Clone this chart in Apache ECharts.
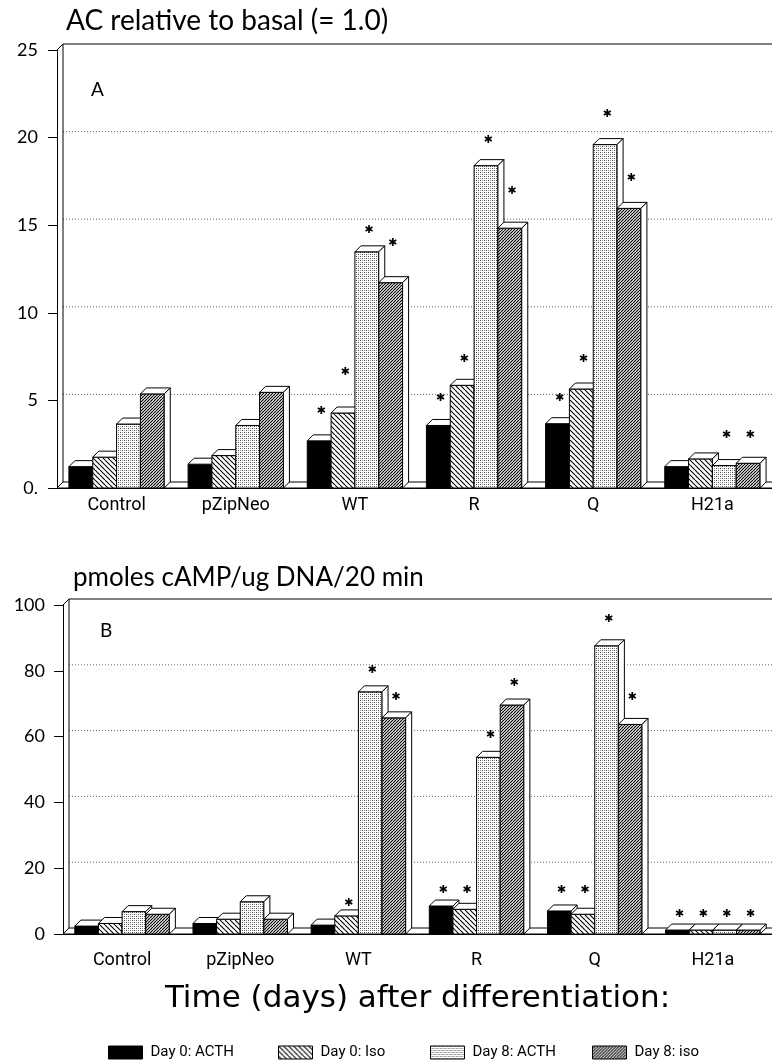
<!DOCTYPE html>
<html>
<head>
<meta charset="utf-8">
<script src="https://cdn.jsdelivr.net/npm/echarts@6/dist/echarts.min.js"></script>
<style>
  html, body { margin: 0; padding: 0; background: #fff; }
  #chart { width: 772px; height: 1063px; }
</style>
</head>
<body>
<div id="chart"></div>
<script>
// categories + legend names
const categories = ['Control', 'pZipNeo', 'WT', 'R', 'Q', 'H21a'];
const seriesNames = ['Day 0: ACTH', 'Day 0: Iso', 'Day 8: ACTH', 'Day 8: iso'];

// panel A: AC relative to basal
const acthDay0A = [1.22, 1.36, 2.69, 3.57, 3.67, 1.22];
const isoDay0A = [1.76, 1.85, 4.28, 5.86, 5.65, 1.66];
const acthDay8A = [3.65, 3.57, 13.48, 18.4, 19.6, 1.28];
const isoDay8A = [5.37, 5.46, 11.72, 14.83, 15.96, 1.41];
// asterisk heights (null = no asterisk)
const starActhDay0A = [null, null, 4.37, 5.15, 5.15, null];
const starIsoDay0A = [null, null, 6.6, 7.33, 7.33, null];
const starActhDay8A = [null, null, 14.72, 19.87, 21.36, 3.0];
const starIsoDay8A = [null, null, 13.97, 16.95, 17.7, 3.0];
const ticksA = [0, 5, 10, 15, 20, 25];

// panel B: pmoles cAMP/ug DNA/20 min
const acthDay0B = [2.4, 3.2, 2.7, 8.5, 7.0, 1.2];
const isoDay0B = [3.2, 4.5, 5.5, 7.5, 6.0, 1.2];
const acthDay8B = [6.8, 9.8, 73.6, 53.7, 87.6, 1.2];
const isoDay8B = [6.0, 4.5, 65.7, 69.6, 63.7, 1.2];
const starActhDay0B = [null, null, null, 13.4, 13.4, 6.1];
const starIsoDay0B = [null, null, 9.5, 13.4, 13.4, 6.1];
const starActhDay8B = [null, null, 80.2, 60.5, 95.7, 6.1];
const starIsoDay8B = [null, null, 72.1, 76.2, 72.1, 6.1];
const ticksB = [0, 20, 40, 60, 80, 100];

const DEPTH = 6;

function hatchTile(size, dir, lw, bg) {
  const c = document.createElement('canvas');
  c.width = size; c.height = size;
  const ctx = c.getContext('2d');
  ctx.fillStyle = bg; ctx.fillRect(0, 0, size, size);
  ctx.strokeStyle = '#000'; ctx.lineWidth = lw;
  for (let k = -1; k <= 1; k++) {
    ctx.beginPath();
    if (dir > 0) { ctx.moveTo(k * size, size); ctx.lineTo(k * size + size, 0); }
    else { ctx.moveTo(k * size, 0); ctx.lineTo(k * size + size, size); }
    ctx.stroke();
  }
  return { image: c, repeat: 'repeat' };
}

function dotTile() {
  const c = document.createElement('canvas');
  c.width = 4; c.height = 4;
  const ctx = c.getContext('2d');
  ctx.fillStyle = '#fff'; ctx.fillRect(0, 0, 4, 4);
  ctx.fillStyle = '#444';
  ctx.fillRect(0, 0, 1, 1);
  ctx.fillRect(2, 2, 1, 1);
  ctx.fillStyle = '#999';
  ctx.fillRect(2, 0, 1, 1);
  ctx.fillRect(0, 2, 1, 1);
  return { image: c, repeat: 'repeat' };
}

const fills = ['#000', hatchTile(5, -1, 1.1, '#fff'), dotTile(), hatchTile(3, 1, 1.2, '#fff')];

function barSeries(gi, k, values, stars) {
  return {
    name: seriesNames[k],
    type: 'custom',
    xAxisIndex: gi, yAxisIndex: gi,
    itemStyle: { color: fills[k], borderColor: '#000', borderWidth: 1 },
    z: 3,
    data: values.map((v, i) => [i, v, stars[i] == null ? -1 : stars[i]]),
    renderItem: function (params, api) {
      const i = api.value(0), v = api.value(1), s = api.value(2);
      const base = api.coord([i, 0]);
      const top = api.coord([i, v]);
      const band = api.size([1, 0])[0];
      const bw = band * 0.8 / 4;
      const x0 = base[0] - 2 * bw + k * bw;
      const x1 = x0 + bw, d = DEPTH;
      const kids = [
        { type: 'rect', shape: { x: x0, y: top[1], width: bw, height: base[1] - top[1] },
          style: { fill: fills[k], stroke: '#000', lineWidth: 1 } },
        { type: 'polygon', shape: { points: [[x0, top[1]], [x0 + d, top[1] - d], [x1 + d, top[1] - d], [x1, top[1]]] },
          style: { fill: '#fff', stroke: '#000', lineWidth: 1 } },
        { type: 'polygon', shape: { points: [[x1, top[1]], [x1 + d, top[1] - d], [x1 + d, base[1] - d], [x1, base[1]]] },
          style: { fill: '#fff', stroke: '#000', lineWidth: 1 } }
      ];
      if (s >= 0) {
        const sp = api.coord([i, s]);
        kids.push({ type: 'text', style: { text: '✱', x: x0 + bw / 2 + 2, y: sp[1], fill: '#000',
          font: '11px "DejaVu Sans"', align: 'center', verticalAlign: 'middle' } });
      }
      return { type: 'group', children: kids };
    }
  };
}

function frameSeries(gi, yMax, gridVals) {
  return {
    type: 'custom',
    xAxisIndex: gi, yAxisIndex: gi,
    z: 1, silent: true,
    data: [[0, yMax]],
    renderItem: function (params, api) {
      const band = api.size([1, 0])[0];
      const left = api.coord([0, 0])[0] - band / 2;
      const right = api.coord([categories.length - 1, 0])[0] + band / 2;
      const y0 = api.coord([0, 0])[1];
      const yT = api.coord([0, yMax])[1];
      const d = DEPTH;
      const kids = [];
      gridVals.forEach(g => {
        const y = api.coord([0, g])[1] - d;
        kids.push({ type: 'line', shape: { x1: left + d, y1: y, x2: right + d, y2: y },
          style: { stroke: '#666', lineWidth: 1, lineDash: [1, 2] } });
      });
      kids.push({ type: 'polyline', shape: { points: [[left, yT], [left + d, yT - d], [right + d, yT - d]] },
        style: { stroke: '#000', lineWidth: 1, fill: null } });
      kids.push({ type: 'line', shape: { x1: left + d, y1: yT - d, x2: left + d, y2: y0 - d },
        style: { stroke: '#000', lineWidth: 1 } });
      kids.push({ type: 'polygon', shape: { points: [[left, y0], [left + d, y0 - d], [right + d, y0 - d], [right, y0]] },
        style: { fill: '#fff', stroke: '#000', lineWidth: 1 } });
      return { type: 'group', children: kids };
    }
  };
}

const catFont = { fontFamily: 'Roboto', fontSize: 18, color: '#000' };
const numFont = { fontFamily: 'Lato', fontSize: 18, color: '#000' };
const legendLeft = [103, 273, 425, 587];

const chart = echarts.init(document.getElementById('chart'), null, { renderer: 'canvas' });
chart.setOption({
  animation: false,
  backgroundColor: '#fff',
  title: [
    { text: 'AC relative to basal (= 1.0)', left: 61, top: 2,
      textStyle: { fontFamily: 'Lato', fontWeight: 'normal', fontSize: 28, color: '#000' } },
    { text: 'pmoles cAMP/ug DNA/20 min', left: 68, top: 560,
      textStyle: { fontFamily: 'Lato', fontWeight: 'normal', fontSize: 26, color: '#000' } }
  ],
  graphic: [
    { type: 'text', left: 91, top: 80, style: { text: 'A', font: '19px Lato', fill: '#000' } },
    { type: 'text', left: 100, top: 621, style: { text: 'B', font: '19px Lato', fill: '#000' } }
  ],
  legend: seriesNames.map((n, k) => ({
    data: [n],
    top: 1040, left: legendLeft[k],
    icon: 'rect', itemWidth: 34, itemHeight: 13,
    itemStyle: { borderColor: '#000', borderWidth: 1 },
    textStyle: { fontFamily: 'Roboto', fontSize: 15, color: '#000', padding: [0, 0, 0, 3] },
    selectedMode: false
  })),
  grid: [
    { left: 57, top: 50, width: 720, height: 438 },
    { left: 63, top: 605, width: 711, height: 329 }
  ],
  xAxis: [
    { type: 'category', gridIndex: 0, data: categories,
      axisLine: { lineStyle: { color: '#000' } },
      axisTick: { alignWithLabel: true, length: 9, lineStyle: { color: '#000' } },
      axisLabel: Object.assign({ margin: 8 }, catFont) },
    { type: 'category', gridIndex: 1, data: categories,
      axisLine: { lineStyle: { color: '#000' } },
      axisTick: { alignWithLabel: true, length: 9, lineStyle: { color: '#000' } },
      axisLabel: Object.assign({ margin: 17 }, catFont),
      name: 'Time (days) after differentiation:', nameLocation: 'middle', nameGap: 49,
      nameTextStyle: { fontFamily: 'DejaVu Sans', fontSize: 31, color: '#000' } }
  ],
  yAxis: [
    { type: 'value', gridIndex: 0, min: ticksA[0], max: ticksA[ticksA.length - 1], interval: ticksA[1] - ticksA[0],
      axisLine: { show: true, lineStyle: { color: '#000' } },
      axisTick: { show: true, length: 9, lineStyle: { color: '#000' } },
      splitLine: { show: false },
      axisLabel: Object.assign({ margin: 19, formatter: v => v === 0 ? '0.' : String(v) }, numFont) },
    { type: 'value', gridIndex: 1, min: ticksB[0], max: ticksB[ticksB.length - 1], interval: ticksB[1] - ticksB[0],
      axisLine: { show: true, lineStyle: { color: '#000' } },
      axisTick: { show: true, length: 9, lineStyle: { color: '#000' } },
      splitLine: { show: false },
      axisLabel: Object.assign({ margin: 18 }, numFont) }
  ],
  series: [
    frameSeries(0, ticksA[ticksA.length - 1], ticksA.slice(1, -1)),
    barSeries(0, 0, acthDay0A, starActhDay0A),
    barSeries(0, 1, isoDay0A, starIsoDay0A),
    barSeries(0, 2, acthDay8A, starActhDay8A),
    barSeries(0, 3, isoDay8A, starIsoDay8A),
    frameSeries(1, ticksB[ticksB.length - 1], ticksB.slice(1, -1)),
    barSeries(1, 0, acthDay0B, starActhDay0B),
    barSeries(1, 1, isoDay0B, starIsoDay0B),
    barSeries(1, 2, acthDay8B, starActhDay8B),
    barSeries(1, 3, isoDay8B, starIsoDay8B)
  ]
});
</script>
</body>
</html>
